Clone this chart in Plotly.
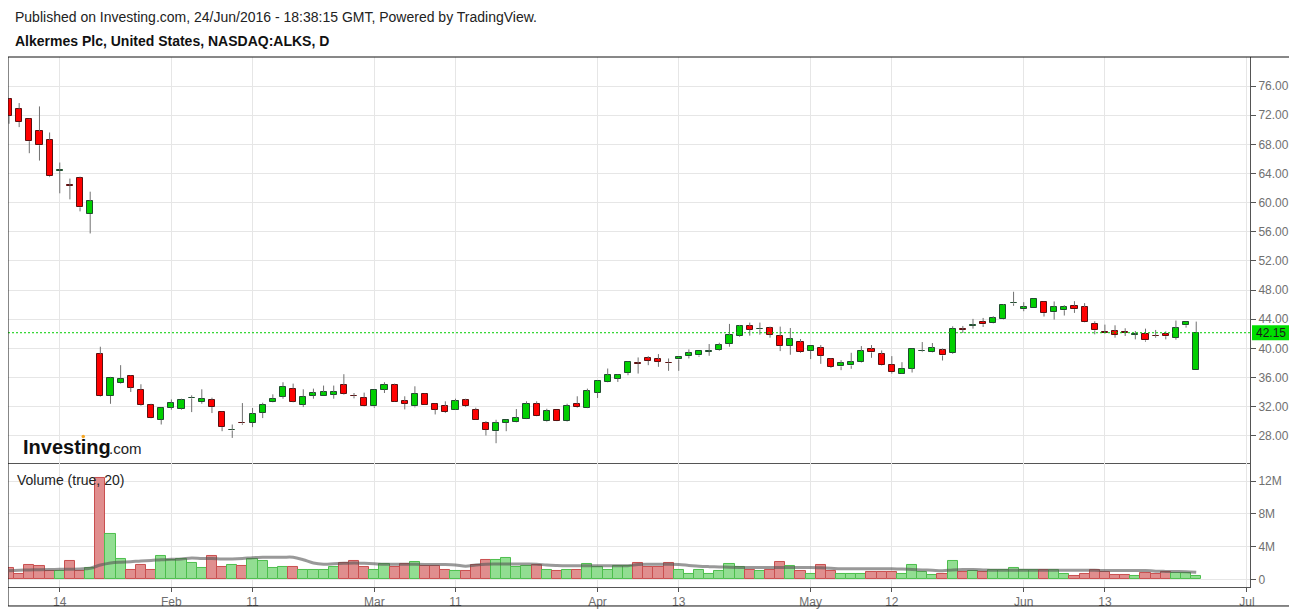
import pandas as pd
import plotly.graph_objects as go

font_family = "Arial, Liberation Sans, sans-serif"

# ALKS daily, 7 Jan 2016 .. 24 Jun 2016
opens = [74.17, 72.88, 71.41, 69.76, 68.61, 64.35, 62.40, 63.43, 58.43, 39.17,
         33.47, 35.26, 36.28, 34.34, 32.28, 30.21, 31.86, 31.72, 33.15, 32.64,
         32.97, 31.22, 28.74, 29.80, 29.79, 31.17, 32.64, 33.38, 34.48, 32.28,
         33.52, 33.52, 33.66, 34.94, 33.50, 33.24, 32.05, 34.34, 35.03, 32.74,
         32.05, 33.79, 32.41, 32.05, 31.59, 32.87, 31.59, 29.79, 28.64, 29.79,
         29.89, 30.34, 32.41, 29.98, 31.49, 30.02, 32.41, 31.86, 33.93, 35.40,
         35.86, 36.64, 37.96, 38.62, 38.48, 38.05, 38.48, 38.94, 39.03, 39.52,
         39.82, 40.64, 41.75, 43.03, 42.60, 42.76, 41.70, 40.37, 40.83, 39.68,
         40.00, 38.48, 37.52, 37.66, 38.07, 39.91, 39.17, 37.79, 36.55, 37.24,
         39.60, 39.45, 39.72, 39.40, 42.60, 43.12, 43.68, 43.45, 44.00, 46.18,
         45.38, 45.52, 46.34, 44.97, 45.24, 45.84, 45.66, 43.40, 42.23, 42.34,
         42.22, 41.90, 41.98, 41.72, 42.02, 41.47, 43.17, 37.10]
highs = [74.30, 73.66, 71.50, 73.20, 69.62, 65.50, 63.30, 63.57, 61.50, 40.23,
         36.10, 37.70, 36.35, 35.08, 32.41, 31.90, 33.00, 33.10, 33.56, 34.39,
         33.24, 31.30, 29.56, 32.50, 31.82, 32.55, 33.70, 35.36, 35.17, 34.39,
         34.48, 34.90, 34.90, 36.46, 33.88, 33.93, 34.34, 35.36, 35.17, 33.43,
         34.80, 33.85, 32.45, 32.74, 33.10, 33.10, 31.86, 30.02, 30.21, 30.21,
         31.68, 32.74, 32.74, 31.72, 31.55, 32.41, 33.43, 34.48, 35.65, 37.24,
         36.41, 38.25, 38.76, 38.94, 39.22, 38.62, 38.85, 39.86, 39.62, 40.60,
         40.78, 43.36, 43.22, 43.54, 43.54, 42.99, 42.99, 42.80, 41.29, 40.32,
         40.46, 38.62, 38.39, 39.40, 40.32, 40.46, 39.72, 38.94, 38.11, 39.95,
         40.87, 40.74, 40.00, 43.03, 43.08, 44.05, 44.18, 44.41, 46.07, 47.77,
         46.34, 46.80, 46.40, 46.44, 45.93, 46.48, 46.21, 43.72, 43.26, 43.17,
         42.76, 42.39, 42.71, 42.53, 42.34, 43.82, 43.65, 43.68]
lows = [70.82, 70.36, 66.78, 65.77, 63.50, 61.28, 60.45, 58.80, 55.77, 33.40,
        32.40, 35.17, 34.02, 32.14, 30.40, 29.56, 31.59, 31.60, 31.26, 32.41,
        31.13, 28.64, 27.72, 29.52, 29.20, 30.44, 32.60, 33.10, 32.60, 31.95,
        33.10, 33.50, 33.10, 33.66, 33.15, 32.05, 31.86, 33.88, 32.65, 31.63,
        31.90, 32.25, 30.94, 31.13, 31.55, 31.95, 30.18, 28.05, 26.99, 28.64,
        29.85, 30.30, 30.68, 29.89, 30.00, 29.95, 31.86, 31.80, 33.20, 35.35,
        35.40, 36.32, 36.55, 37.70, 37.47, 36.92, 36.92, 38.62, 38.85, 38.99,
        39.68, 40.23, 41.60, 41.75, 41.88, 41.47, 39.63, 39.13, 39.40, 38.53,
        37.88, 37.33, 37.01, 37.20, 38.00, 38.71, 37.60, 36.55, 36.50, 36.69,
        39.49, 39.40, 38.34, 39.26, 42.11, 42.71, 42.94, 43.40, 43.95, 45.84,
        45.10, 45.50, 44.37, 43.95, 44.51, 44.87, 43.55, 41.93, 42.07, 41.47,
        41.70, 41.24, 40.92, 41.47, 41.24, 41.20, 42.85, 37.10]
closes = [71.92, 71.05, 68.43, 67.88, 63.61, 64.42, 62.35, 59.35, 60.22, 33.47,
          36.00, 35.86, 34.62, 32.28, 30.44, 31.86, 32.55, 32.97, 33.22, 33.10,
          31.95, 29.20, 28.80, 29.72, 31.03, 32.28, 33.10, 34.76, 32.69, 33.38,
          33.84, 33.98, 33.98, 33.79, 33.45, 32.09, 34.25, 35.03, 32.69, 32.41,
          33.79, 32.28, 31.59, 31.26, 32.74, 32.09, 30.21, 28.83, 29.79, 30.11,
          30.48, 32.41, 30.71, 31.36, 30.02, 32.14, 31.95, 34.11, 35.59, 36.32,
          36.32, 38.20, 37.90, 38.30, 38.16, 37.98, 38.76, 39.31, 39.59, 39.58,
          40.46, 41.84, 43.03, 42.57, 42.64, 41.88, 40.37, 41.24, 39.54, 40.28,
          38.99, 37.47, 37.98, 38.11, 39.63, 39.45, 37.66, 36.74, 37.24, 39.86,
          39.66, 40.00, 39.03, 42.71, 42.55, 43.20, 43.31, 44.14, 45.93, 46.24,
          45.66, 46.76, 44.83, 45.66, 45.66, 45.38, 43.59, 42.48, 42.18, 41.84,
          42.18, 41.96, 41.10, 41.68, 41.66, 42.76, 43.59, 42.15]
# volume in millions of shares
volume_m = [1.40, 0.68, 1.76, 1.64, 1.04, 0.96, 2.28, 1.04, 1.40, 12.40,
            5.50, 2.50, 1.20, 1.70, 1.20, 2.80, 2.40, 2.50, 1.95, 1.35,
            2.90, 1.45, 1.70, 1.60, 2.50, 2.20, 1.35, 1.45, 1.45, 1.15,
            1.20, 1.20, 1.45, 1.95, 2.20, 1.45, 1.15, 1.85, 1.45, 1.85,
            2.10, 1.60, 1.60, 1.10, 1.00, 1.00, 1.70, 2.35, 2.35, 2.60,
            1.45, 1.60, 1.70, 1.20, 1.00, 1.20, 1.10, 1.85, 1.45, 1.20,
            1.60, 1.60, 1.95, 1.45, 1.45, 1.95, 1.20, 0.70, 1.20, 0.70,
            1.00, 1.85, 1.45, 1.10, 1.00, 1.20, 2.10, 1.60, 1.00, 0.70,
            1.70, 1.00, 0.70, 0.70, 0.70, 0.85, 0.85, 0.85, 0.60, 1.70,
            0.85, 0.50, 0.60, 2.30, 0.85, 1.00, 0.85, 1.20, 1.20, 1.35,
            1.10, 1.20, 1.10, 1.10, 0.60, 0.37, 0.60, 1.10, 0.85, 0.50,
            0.50, 0.37, 0.73, 0.60, 0.85, 0.73, 0.73, 0.37]
# 20-day volume average as drawn
volume_ma_m = [1.06, 1.10, 1.15, 1.18, 1.20, 1.22, 1.24, 1.27, 1.35, 1.75,
               2.00, 2.10, 2.15, 2.25, 2.30, 2.40, 2.45, 2.50, 2.60, 2.55,
               2.55, 2.50, 2.50, 2.55, 2.65, 2.70, 2.70, 2.70, 2.70, 2.40,
               2.00, 1.85, 1.90, 1.95, 2.00, 1.95, 1.90, 1.85, 1.83, 1.83,
               1.83, 1.82, 1.80, 1.80, 1.75, 1.60, 1.75, 1.85, 1.87, 1.87,
               1.87, 1.87, 1.85, 1.75, 1.70, 1.67, 1.67, 1.67, 1.67, 1.67,
               1.67, 1.67, 1.80, 1.83, 1.83, 1.83, 1.80, 1.70, 1.60, 1.55,
               1.52, 1.48, 1.46, 1.46, 1.46, 1.46, 1.46, 1.46, 1.46, 1.45,
               1.40, 1.35, 1.30, 1.28, 1.30, 1.30, 1.30, 1.28, 1.25, 1.20,
               1.15, 1.10, 1.06, 1.15, 1.20, 1.20, 1.15, 1.10, 1.10, 1.10,
               1.10, 1.10, 1.10, 1.10, 1.10, 1.10, 1.10, 1.10, 1.08, 1.08,
               1.08, 1.08, 1.08, 1.00, 0.97, 0.95, 0.92, 0.85]
last_price = 42.15

tick_dates = ["2016-01-14", "2016-02-01", "2016-02-11", "2016-03-01", "2016-03-11", "2016-04-01",
              "2016-04-13", "2016-05-02", "2016-05-12", "2016-06-01", "2016-06-13", "2016-07-01"]
tick_text = ["14", "Feb", "11", "Mar", "11", "Apr", "13", "May", "12", "Jun", "13", "Jul"]
price_ticks = [28, 32, 36, 40, 44, 48, 52, 56, 60, 64, 68, 72, 76]
vol_ticks = [0, 4e6, 8e6, 12e6]
vol_tick_text = ["0", "4M", "8M", "12M"]

# trading days (NYSE holidays removed), running on to 1 Jul for the empty right side
days = pd.bdate_range("2016-01-07", "2016-07-01", freq="C",
                      holidays=["2016-01-18", "2016-02-15", "2016-03-25", "2016-05-30"])
tickvals = [days.get_loc(pd.Timestamp(d)) for d in tick_dates]
idx = list(range(len(opens)))

up = [c >= o for o, c in zip(opens, closes)]
body_fill = ["#00d000" if u else "#ff0000" for u in up]
body_line = ["#1f4d2e" if u else "#5a1010" for u in up]
vol_fill = ["#92de92" if u else "#e08e8e" for u in up]
vol_line = ["#4dbf4d" if u else "#c94f4f" for u in up]

# wicks split above / below the body so they never cross it
wx, wy = [], []
for i, o, h, l, c in zip(idx, opens, highs, lows, closes):
    top, bot = max(o, c), min(o, c)
    wx += [i, i, None, i, i, None]
    wy += [h, top, None, bot, l, None]

fig = go.Figure()
fig.add_trace(go.Scatter(x=wx, y=wy, mode="lines", line=dict(color="#707070", width=1),
                         hoverinfo="skip", showlegend=False, xaxis="x", yaxis="y"))
fig.add_trace(go.Bar(x=idx, y=[max(abs(c - o), 0.05) for o, c in zip(opens, closes)],
                     base=[min(o, c) for o, c in zip(opens, closes)], width=0.6,
                     marker=dict(color=body_fill, line=dict(color=body_line, width=1)),
                     showlegend=False, xaxis="x", yaxis="y"))
fig.add_trace(go.Bar(x=idx, y=[v * 1e6 for v in volume_m], width=1.0,
                     marker=dict(color=vol_fill, line=dict(color=vol_line, width=1)),
                     showlegend=False, xaxis="x2", yaxis="y2"))
fig.add_trace(go.Scatter(x=idx, y=[v * 1e6 for v in volume_ma_m], mode="lines",
                         line=dict(color="rgba(85,85,85,0.6)", width=3, shape="spline"),
                         showlegend=False, xaxis="x2", yaxis="y2"))

grid = "#e6e6e6"
axis_line = "#555555"
tick_font = dict(family=font_family, size=12, color="#707070")
xcommon = dict(range=[-0.1, 122.3], tickmode="array", tickvals=tickvals, ticktext=tick_text,
               showgrid=True, gridcolor=grid, zeroline=False, fixedrange=True)

# the page body has an 8px margin, so the figure is a little smaller than the window
fig.update_layout(
    width=1289, height=603, autosize=False,
    margin=dict(l=0, r=47, t=49, b=24),
    paper_bgcolor="white", plot_bgcolor="white",
    bargap=0, barmode="overlay",
    font=dict(family=font_family, color="#222222"),
    xaxis=dict(**xcommon, anchor="y", showticklabels=False, showline=True,
               linecolor=axis_line, linewidth=1),
    xaxis2=dict(**xcommon, anchor="y2", matches="x", showline=True, linecolor=axis_line,
                linewidth=1, ticks="outside", ticklen=4, tickcolor=axis_line, tickfont=tick_font),
    yaxis=dict(domain=[0.234, 1], range=[24.28, 79.98], side="right", tickmode="array",
               tickvals=price_ticks, ticktext=[f"{t:.2f}" for t in price_ticks],
               ticks="outside", ticklen=5, tickcolor=axis_line, tickfont=tick_font,
               showline=True, linecolor=axis_line, gridcolor=grid, zeroline=False),
    yaxis2=dict(domain=[0, 0.234], range=[-0.94e6, 14.23e6], side="right", tickmode="array",
                tickvals=vol_ticks, ticktext=vol_tick_text, ticks="outside", ticklen=5,
                tickcolor=axis_line, tickfont=tick_font, showline=True, linecolor=axis_line,
                gridcolor=grid, zeroline=False),
    shapes=[
        dict(type="line", xref="paper", yref="y", x0=0, x1=1, y0=last_price, y1=last_price,
             line=dict(color="#00cc00", width=1, dash="2px,2px")),
        dict(type="rect", xref="paper", yref="y", x0=1.0016, x1=1.0322,
             y0=last_price - 1.03, y1=last_price + 1.03, fillcolor="#00e000", line=dict(width=0)),
        dict(type="rect", xref="paper", yref="paper", x0=0, x1=1.0322, y0=-0.0358, y1=1,
             line=dict(color="#111111", width=1)),
        dict(type="circle", xref="paper", yref="paper", x0=0.0592, x1=0.0620,
             y0=0.2808, y1=0.2872, fillcolor="#f5a623", line=dict(width=0)),
    ],
    annotations=[
        dict(text="Published on Investing.com, 24/Jun/2016 - 18:38:15 GMT, Powered by TradingView.",
             xref="paper", yref="paper", x=0.0042, y=1.0755, xanchor="left", yanchor="middle",
             showarrow=False, font=dict(size=14, color="#222222")),
        dict(text="<b>Alkermes Plc, United States, NASDAQ:ALKS, D</b>",
             xref="paper", yref="paper", x=0.0042, y=1.030, xanchor="left", yanchor="middle",
             showarrow=False, font=dict(size=14, color="#111111")),
        dict(text=f"{last_price:.2f}", xref="paper", yref="y", x=1.0169, y=last_price,
             xanchor="center", yanchor="middle", showarrow=False,
             font=dict(size=12, color="#1a1a1a")),
        dict(text="Volume (true, 20)", xref="paper", yref="paper", x=0.0055, y=0.2019,
             xanchor="left", yanchor="middle", showarrow=False,
             font=dict(size=14, color="#222222")),
        dict(text="<b>Investing</b>", xref="paper", yref="paper", x=0.0105, y=0.264,
             xanchor="left", yanchor="middle", showarrow=False,
             font=dict(size=20, color="#111111")),
        dict(text=".com", xref="paper", yref="paper", x=0.0795, y=0.2610,
             xanchor="left", yanchor="middle", showarrow=False,
             font=dict(size=15, color="#222222")),
    ],
)

fig.write_html("out.html")
